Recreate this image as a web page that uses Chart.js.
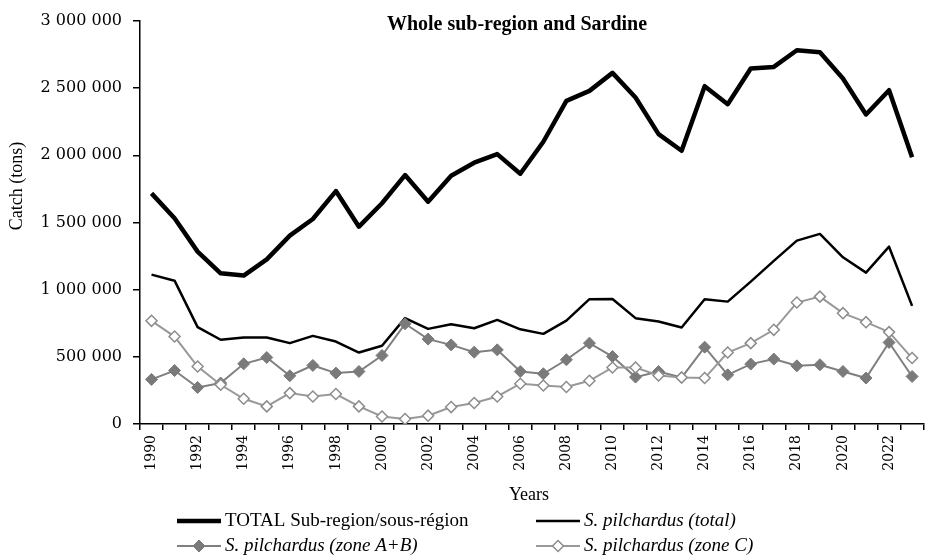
<!DOCTYPE html>
<html>
<head>
<meta charset="utf-8">
<title>Whole sub-region and Sardine</title>
<script src="https://cdn.jsdelivr.net/npm/chart.js@4/dist/chart.umd.min.js"></script>
<style>
  html, body { margin: 0; padding: 0; background: #fff; overflow: hidden; }
  #wrap { width: 928px; height: 560px; overflow: hidden; }
</style>
</head>
<body>
<div id="wrap">
  <canvas id="catchChart" width="934" height="560"></canvas>
</div>
<script>
/* Catch (tons) 1990-2023 */

const years = ['1990', '1991', '1992', '1993', '1994', '1995', '1996', '1997', '1998', '1999',
               '2000', '2001', '2002', '2003', '2004', '2005', '2006', '2007', '2008', '2009',
               '2010', '2011', '2012', '2013', '2014', '2015', '2016', '2017', '2018', '2019',
               '2020', '2021', '2022', '2023'];

const totalSubRegion = [1717000, 1531000, 1283000, 1122000, 1105000, 1226000, 1402000, 1526000, 1734000, 1469000,
                        1643000, 1853000, 1655000, 1848000, 1945000, 2009000, 1863000, 2101000, 2405000, 2480000,
                        2614000, 2431000, 2158000, 2034000, 2515000, 2381000, 2646000, 2658000, 2782000, 2767000,
                        2572000, 2304000, 2485000, 1985000];

const sardineTotal = [1112000, 1067000, 721000, 627000, 644000, 644000, 602000, 656000, 614000, 532000,
                      582000, 788000, 708000, 743000, 713000, 775000, 705000, 671000, 770000, 929000,
                      931000, 788000, 763000, 718000, 929000, 911000, 1060000, 1214000, 1365000, 1415000,
                      1241000, 1127000, 1320000, 879000];

const sardineZoneAB = [332000, 398000, 272000, 305000, 448000, 495000, 359000, 436000, 379000, 391000,
                       510000, 746000, 632000, 589000, 535000, 552000, 391000, 374000, 478000, 602000,
                       502000, 349000, 391000, 346000, 572000, 366000, 446000, 483000, 433000, 441000,
                       391000, 342000, 607000, 354000];

const sardineZoneC = [768000, 651000, 428000, 292000, 188000, 131000, 230000, 205000, 223000, 131000,
                      56000, 37000, 62000, 126000, 156000, 205000, 300000, 287000, 275000, 322000,
                      421000, 421000, 361000, 346000, 342000, 532000, 602000, 701000, 904000, 948000,
                      825000, 758000, 684000, 491000];

const yTicks = [0, 500000, 1000000, 1500000, 2000000, 2500000, 3000000];

const chartTitle = 'Whole sub-region and Sardine';
const xTitle = 'Years';
const yTitle = 'Catch (tons)';

// "1500000" -> "1 500 000"
function spaced(v) {
  return String(v).replace(/\B(?=(\d{3})+(?!\d))/g, ' ');
}

Chart.defaults.font.family = "'Liberation Serif', serif";
Chart.defaults.color = '#000';

/* Titles + two-column legend drawn on top of the chart */
const overlayText = {
  id: 'overlayText',
  afterDraw(chart) {
    const ctx = chart.ctx;
    ctx.save();
    ctx.fillStyle = '#000';

    // chart title, sits inside the plot area
    ctx.font = "bold 20px 'Liberation Serif'";
    ctx.textAlign = 'center';
    ctx.textBaseline = 'alphabetic';
    ctx.fillText(chartTitle, 517, 30);

    // axis titles
    ctx.font = "18px 'Liberation Serif'";
    ctx.textBaseline = 'middle';
    ctx.fillText(xTitle, 529, 495);
    ctx.save();
    ctx.translate(17, 186);
    ctx.rotate(-Math.PI / 2);
    ctx.fillText(yTitle, 0, 0);
    ctx.restore();

    // legend: 2 x 2 grid
    const slots = [[177, 521], [536, 521], [177, 546], [536, 546]];
    chart.data.datasets.forEach((ds, i) => {
      const [x, y] = slots[i];
      const len = 44;
      ctx.strokeStyle = ds.borderColor;
      ctx.lineWidth = ds.borderWidth;
      ctx.beginPath();
      ctx.moveTo(x, y);
      ctx.lineTo(x + len, y);
      ctx.stroke();
      if (ds.pointRadius > 0) {
        const cx = x + len / 2, r = ds.pointRadius;
        ctx.beginPath();
        ctx.moveTo(cx, y - r);
        ctx.lineTo(cx + r, y);
        ctx.lineTo(cx, y + r);
        ctx.lineTo(cx - r, y);
        ctx.closePath();
        ctx.fillStyle = ds.pointBackgroundColor;
        ctx.fill();
        ctx.lineWidth = ds.pointBorderWidth;
        ctx.strokeStyle = ds.pointBorderColor;
        ctx.stroke();
      }
      ctx.fillStyle = '#000';
      ctx.textAlign = 'left';
      ctx.font = (i === 0 ? '' : 'italic ') + "19px 'Liberation Serif'";
      ctx.fillText(ds.label, x + len + 4, y);
    });
    ctx.restore();
  }
};

new Chart(document.getElementById('catchChart'), {
  type: 'line',
  data: {
    labels: years,
    datasets: [
      {
        label: 'TOTAL Sub-region/sous-région',
        data: totalSubRegion,
        borderColor: '#000',
        borderWidth: 4.5,
        pointRadius: 0,
        borderJoinStyle: 'round',
        order: 4
      },
      {
        label: 'S. pilchardus (total)',
        data: sardineTotal,
        borderColor: '#000',
        borderWidth: 2.5,
        pointRadius: 0,
        borderJoinStyle: 'round',
        order: 3
      },
      {
        label: 'S. pilchardus (zone A+B)',
        data: sardineZoneAB,
        borderColor: '#7f7f7f',
        borderWidth: 2,
        pointStyle: 'rectRot',
        pointRadius: 6,
        pointBackgroundColor: '#7a7a7a',
        pointBorderColor: '#7a7a7a',
        pointBorderWidth: 1,
        order: 2
      },
      {
        label: 'S. pilchardus (zone C)',
        data: sardineZoneC,
        borderColor: '#999',
        borderWidth: 2,
        pointStyle: 'rectRot',
        pointRadius: 5.5,
        pointBackgroundColor: '#fff',
        pointBorderColor: '#8c8c8c',
        pointBorderWidth: 1.5,
        order: 1
      }
    ]
  },
  options: {
    responsive: false,
    animation: false,
    layout: { padding: { top: 21, left: 0, right: 0, bottom: 0 } },
    plugins: {
      legend: { display: false },
      title: { display: false },
      tooltip: { enabled: false }
    },
    scales: {
      x: {
        type: 'category',
        offset: true,
        grid: { offset: true, drawOnChartArea: false, drawTicks: true, tickLength: 6, color: '#000', lineWidth: 1.5 },
        border: { display: true, color: '#000', width: 1.5 },
        ticks: {
          autoSkip: false,
          minRotation: 90,
          maxRotation: 90,
          padding: 5,
          color: '#000',
          font: { family: "'DejaVu Serif'", size: 14 },
          callback: function (value, index) {
            return index % 2 === 0 ? this.getLabelForValue(value) : '';
          }
        },
        afterFit: (scale) => { scale.height = 136; }
      },
      y: {
        min: 0,
        max: 3000000,
        grid: { drawOnChartArea: false, drawTicks: true, tickLength: 7, color: '#000', lineWidth: 1.5 },
        border: { display: true, color: '#000', width: 1.5 },
        afterBuildTicks: (scale) => { scale.ticks = yTicks.map(v => ({ value: v })); },
        ticks: {
          padding: 11,
          color: '#000',
          font: { family: "'DejaVu Serif'", size: 16 },
          callback: v => spaced(v)
        },
        afterFit: (scale) => { scale.width = 140; }
      }
    }
  },
  plugins: [overlayText]
});
</script>
</body>
</html>
